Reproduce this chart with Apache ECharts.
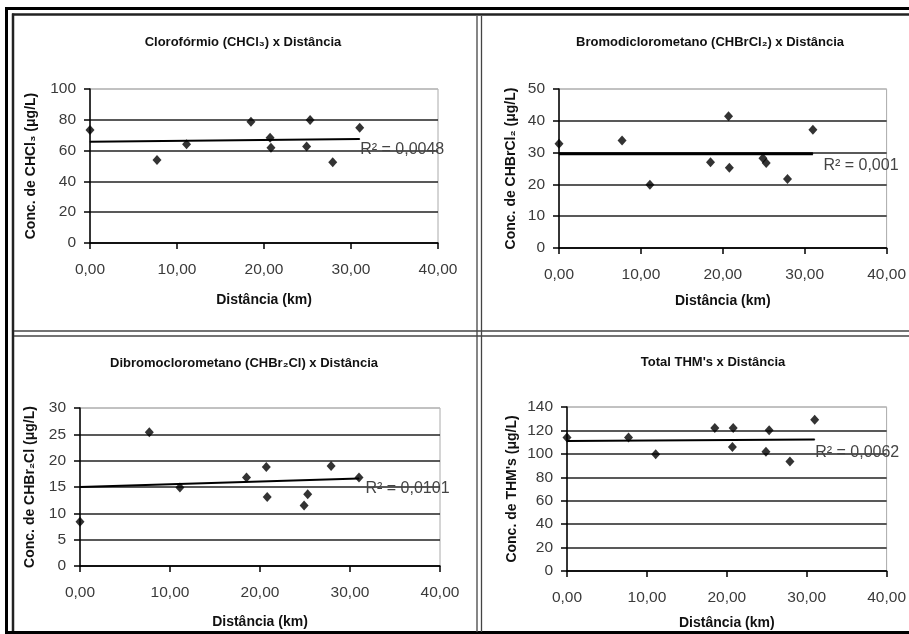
<!DOCTYPE html>
<html>
<head>
<meta charset="utf-8">
<script src="https://cdn.jsdelivr.net/npm/echarts@6/dist/echarts.min.js"></script>
<style>
html,body{margin:0;padding:0;background:#fff;}
#c{width:909px;height:634px;}
</style>
</head>
<body>
<div id="c"></div>
<script>
// ---- data ----
const distancia = [0, 7.7, 11.1, 18.5, 20.7, 20.8, 24.9, 25.3, 27.9, 31.0];
const chcl3   = [73.4, 53.9, 64.1, 78.8, 68.4, 61.9, 62.6, 79.9, 52.4, 74.9];
const chbrcl2 = [32.8, 33.8, 19.9, 27.0, 41.4, 25.2, 28.2, 26.7, 21.7, 37.2];
const chbr2cl = [8.4, 25.4, 14.9, 16.8, 18.8, 13.1, 11.5, 13.6, 19.0, 16.8];
const thm     = [113.9, 113.9, 99.7, 122.1, 105.9, 122.1, 101.7, 120.1, 93.4, 129.2];

const trendX = [0, 31];
const trend1 = [65.8, 67.5];
const trend2 = [29.6, 29.6];
const trend3 = [15.0, 16.6];
const trend4 = [111.0, 112.2];

const r2Labels = ['R\u00B2 = 0,0048', 'R\u00B2 = 0,001', 'R\u00B2 = 0,0101', 'R\u00B2 = 0,0062'];
const titles = [
  'Clorof\u00F3rmio (CHCl\u2083) x Dist\u00E2ncia',
  'Bromodiclorometano (CHBrCl\u2082) x Dist\u00E2ncia',
  'Dibromoclorometano (CHBr\u2082Cl) x Dist\u00E2ncia',
  'Total THM\'s x Dist\u00E2ncia'
];
const yNames = [
  'Conc. de CHCl\u2083 (\u03BCg/L)',
  'Conc. de CHBrCl\u2082 (\u03BCg/L)',
  'Conc. de CHBr\u2082Cl (\u03BCg/L)',
  'Conc. de THM\'s (\u03BCg/L)'
];
const xName = 'Dist\u00E2ncia (km)';
const xTickLabels = ['0,00', '10,00', '20,00', '30,00', '40,00'];
const yMax = [100, 50, 30, 140];
const yInterval = [20, 10, 5, 20];

// ---- layout ----
const grids = [
  {left: 90, top: 89, width: 348, height: 154},
  {left: 559, top: 89, width: 333, height: 159},
  {left: 80, top: 408, width: 360, height: 158},
  {left: 567, top: 407, width: 328, height: 164}
];
const titlePos = [[238, 31], [705, 31], [239, 352], [708, 351]];
const yNameGap = [52, 41, 43, 48];
const xNameGap = [50, 46, 49, 45];
const r2Offset = [[-2, 11], [8, 12], [4, 10], [-2, 13]];
const trendWidth = [2, 3, 2, 2];

const values = [chcl3, chbrcl2, chbr2cl, thm];
const trends = [trend1, trend2, trend3, trend4];

const FONT = 'Liberation Sans, Arial, sans-serif';

const option = {
  animation: false,
  backgroundColor: '#fff',
  title: titles.map((t, i) => ({
    text: t, left: titlePos[i][0], top: titlePos[i][1], textAlign: 'center',
    textStyle: {fontFamily: FONT, fontSize: 13, fontWeight: 'bold', color: '#111'}
  })),
  grid: grids.map(g => Object.assign({show: true, borderColor: '#aaa', borderWidth: 1, backgroundColor: 'transparent'}, g)),
  xAxis: grids.map((g, i) => ({
    type: 'value', gridIndex: i, min: 0, max: 40, interval: 10,
    name: xName, nameLocation: 'middle', nameGap: xNameGap[i],
    nameTextStyle: {fontFamily: FONT, fontSize: 14, fontWeight: 'bold', color: '#111'},
    axisLine: {show: true, lineStyle: {color: '#000', width: 1.5}},
    axisTick: {show: true, inside: false, length: 6, lineStyle: {color: '#000', width: 1.5}},
    axisLabel: {margin: 19, fontFamily: FONT, fontSize: 15.5, color: '#3a3a3a',
      formatter: v => xTickLabels[Math.round(v / 10)]},
    splitLine: {show: false}
  })),
  yAxis: grids.map((g, i) => {
    const n = yMax[i] / yInterval[i] + 1;
    const cols = [];
    for (let k = 0; k < n; k++) cols.push(k === n - 1 ? '#bbb' : '#222');
    return {
      type: 'value', gridIndex: i, min: 0, max: yMax[i], interval: yInterval[i],
      name: yNames[i], nameLocation: 'middle', nameGap: yNameGap[i], nameRotate: 90,
      nameTextStyle: {fontFamily: FONT, fontSize: 14, fontWeight: 'bold', color: '#111'},
      axisLine: {show: true, lineStyle: {color: '#000', width: 1.5}},
      axisTick: {show: true, inside: false, length: 6, lineStyle: {color: '#000', width: 1.5}},
      axisLabel: {margin: 14, fontFamily: FONT, fontSize: 15.5, color: '#3a3a3a'},
      splitLine: {show: true, lineStyle: {color: cols, width: 1.5}}
    };
  }),
  series: [],
  graphic: [
    {type: 'line', shape: {x1: 5, y1: 8.5, x2: 909, y2: 8.5}, style: {stroke: '#000', lineWidth: 3}},
    {type: 'line', shape: {x1: 12, y1: 14.5, x2: 909, y2: 14.5}, style: {stroke: '#222', lineWidth: 2.5}},
    {type: 'line', shape: {x1: 6.5, y1: 7, x2: 6.5, y2: 634}, style: {stroke: '#000', lineWidth: 3}},
    {type: 'line', shape: {x1: 13, y1: 13.5, x2: 13, y2: 634}, style: {stroke: '#222', lineWidth: 2.5}},
    {type: 'line', shape: {x1: 5, y1: 632.5, x2: 909, y2: 632.5}, style: {stroke: '#000', lineWidth: 3}},
    {type: 'line', shape: {x1: 477, y1: 16, x2: 477, y2: 632}, style: {stroke: '#444', lineWidth: 1.3}},
    {type: 'line', shape: {x1: 481.5, y1: 16, x2: 481.5, y2: 632}, style: {stroke: '#444', lineWidth: 1.3}},
    {type: 'line', shape: {x1: 14, y1: 331, x2: 909, y2: 331}, style: {stroke: '#444', lineWidth: 1.3}},
    {type: 'line', shape: {x1: 14, y1: 336, x2: 909, y2: 336}, style: {stroke: '#444', lineWidth: 1.3}}
  ]
};

for (let i = 0; i < 4; i++) {
  option.series.push({
    type: 'scatter', xAxisIndex: i, yAxisIndex: i,
    symbol: 'diamond', symbolSize: [9, 10],
    itemStyle: {color: '#000'},
    data: distancia.map((d, k) => [d, values[i][k]]),
    z: 5
  });
  const tr = trends[i];
  option.series.push({
    type: 'line', xAxisIndex: i, yAxisIndex: i,
    symbol: 'circle', symbolSize: 1, showSymbol: true,
    itemStyle: {color: '#000'},
    lineStyle: {color: '#000', width: trendWidth[i]},
    data: trendX.map((x, k) => {
      const item = {value: [x, tr[k]]};
      if (k === trendX.length - 1) {
        item.label = {
          show: true, position: 'right', distance: 2, offset: r2Offset[i],
          formatter: r2Labels[i],
          fontFamily: FONT, fontSize: 16, color: '#444'
        };
      }
      return item;
    }),
    z: 4
  });
}

const chart = echarts.init(document.getElementById('c'), null, {renderer: 'canvas'});
chart.setOption(option);
</script>
</body>
</html>
